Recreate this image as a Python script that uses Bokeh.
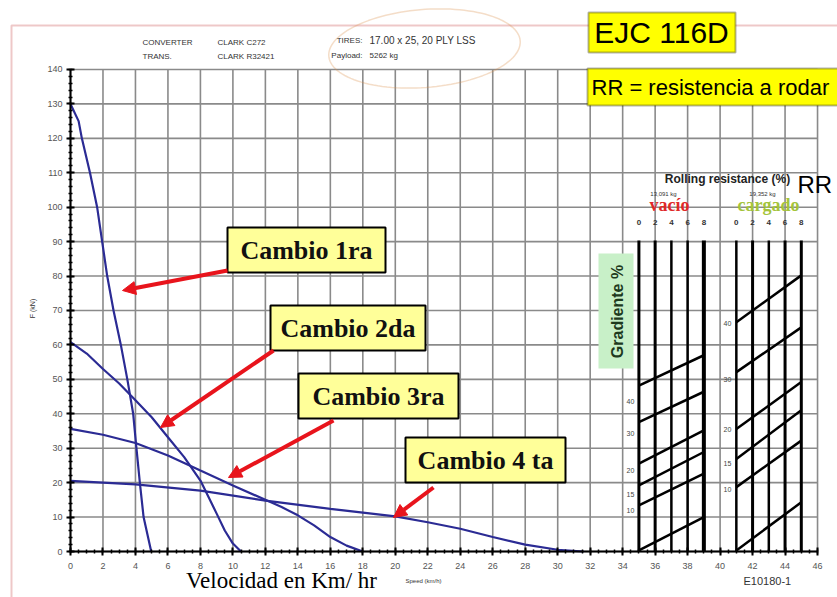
import numpy as np
from bokeh.plotting import figure
from bokeh.models import Range1d, FixedTicker, Label, Arrow, NormalHead, PolyAnnotation
from bokeh.core.properties import value
from bokeh.embed import file_html
from bokeh.resources import INLINE

# ---------------- data ----------------
speed_ticks = list(range(0, 47, 2))
force_ticks = list(range(0, 141, 10))

gear1_speed = [0, 0.5, 0.7, 1.2, 1.64, 1.95, 2.26, 2.65, 3.1, 3.5, 3.86, 4.06, 4.27, 4.5, 4.97]
gear1_force = [130, 125, 120, 110, 100, 90, 80, 70, 60, 50, 40, 30, 20, 10, 0]
gear2_speed = [0, 1, 2, 3, 4, 5, 6, 7, 8, 8.5, 9, 9.5, 10, 10.5]
gear2_force = [60.8, 57.5, 53, 48.8, 43.9, 39, 33.2, 27.4, 20.6, 15.8, 11, 6.1, 2.3, 0]
gear3_speed = [0, 2, 4, 6, 8, 10, 12, 13, 14, 15, 16, 17, 18]
gear3_force = [35.6, 33.9, 31.5, 27.9, 23.5, 19.2, 15, 12.9, 10.5, 7.6, 4.2, 1.7, 0]
gear4_speed = [0, 4, 8, 12, 16, 20, 22, 24, 26, 28, 30, 31.6]
gear4_force = [20.5, 19.5, 17.7, 14.8, 12.4, 10.2, 8.5, 6.6, 4.2, 2.0, 0.5, 0]
gear_labels = ["Cambio 1ra", "Cambio 2da", "Cambio 3ra", "Cambio 4 ta"]

rr_scale_labels = ["0", "2", "4", "6", "8"]
rr_vacio_x = [35, 36, 37, 38, 39]
rr_cargado_x = [41, 42, 43, 44, 45]
rr_top = 90.3
vacio_grade_start = [0.3, 13.4, 19.2, 25.5, 37.6, 48.2]
vacio_grade_end = [10.0, 22.6, 28.9, 35.2, 46.4, 57.0]
cargado_grade_start = [0.3, 18.7, 26.9, 35.6, 52.1, 66.6]
cargado_grade_end = [14.3, 32.2, 41.0, 49.2, 65.1, 80.2]
vacio_grade_labels = ["40", "30", "20", "15", "10"]
vacio_grade_label_y = [43.6, 34.3, 23.5, 16.6, 11.9]
cargado_grade_labels = ["40", "30", "20", "15", "10"]
cargado_grade_label_y = [66.2, 50.0, 35.4, 25.6, 18.0]

# ------------- layout helpers (reference pixel -> data) -------------
def dx(X):
    return (X - 70) / 16.24

def dy(Y):
    return (551 - Y) / 3.443

SANS = value("Liberation Sans")
SERIF = value("Liberation Serif")

W, H = 837, 597
# the frame covers the whole canvas
p = figure(width=W, height=H, output_backend="svg", toolbar_location=None,
           x_range=Range1d(dx(0), dx(W)), y_range=Range1d(dy(H), dy(0)),
           min_border=0)
p.background_fill_color = "white"
p.border_fill_color = "white"
p.outline_line_color = None
p.xgrid.visible = False
p.ygrid.visible = False

p.xaxis.ticker = FixedTicker(ticks=speed_ticks, minor_ticks=[i * 0.5 for i in range(93)])
p.yaxis.ticker = FixedTicker(ticks=force_ticks, minor_ticks=list(range(0, 141, 2)))
p.xaxis.fixed_location = 0
p.yaxis.fixed_location = 0
p.xaxis.bounds = (0, 46)
p.yaxis.bounds = (0, 140)
for ax in (p.xaxis[0], p.yaxis[0]):
    ax.axis_line_color = "black"
    ax.axis_line_width = 2
    ax.major_tick_line_color = "black"
    ax.major_tick_line_width = 2
    ax.major_tick_in = 4
    ax.major_tick_out = 4
    ax.minor_tick_line_color = "black"
    ax.minor_tick_line_width = 1.5
    ax.minor_tick_in = 2
    ax.minor_tick_out = 2
    ax.major_label_text_font = "Liberation Sans"
    ax.major_label_text_font_size = "9px"
    ax.major_label_text_color = "#555555"
p.xaxis.major_label_standoff = 7
p.yaxis.major_label_standoff = 4

# grid lines limited to the chart area
grid_color = "#8a8a8a"
p.segment(x0=speed_ticks, y0=[force_ticks[0]] * len(speed_ticks),
          x1=speed_ticks, y1=[force_ticks[-1]] * len(speed_ticks),
          line_color=grid_color, line_width=1.6)
p.segment(x0=[speed_ticks[0]] * len(force_ticks), y0=force_ticks,
          x1=[speed_ticks[-1]] * len(force_ticks), y1=force_ticks,
          line_color=grid_color, line_width=1.6)

# gear curves
curve_color = "#2b2b94"
for xs, ys in ((gear1_speed, gear1_force), (gear2_speed, gear2_force),
               (gear3_speed, gear3_force), (gear4_speed, gear4_force)):
    p.line(xs, ys, line_color=curve_color, line_width=2.2)

# "Gradiente %" box
p.quad(left=dx(598), right=dx(633), top=dy(253), bottom=dy(368),
       fill_color="#c8f0c8", line_color=None)
p.text(x=[dx(617)], y=[dy(311)], text=["Gradiente %"], angle=np.pi / 2,
       text_font=SANS, text_font_style="bold", text_font_size="16px",
       text_color="#1e3a1e", text_align="center", text_baseline="middle")

# Rolling resistance nomograph
for xs, w in ((rr_vacio_x, [3, 3, 2.5, 2.5, 4]), (rr_cargado_x, [2.5, 3, 2.5, 3, 3])):
    p.segment(x0=xs, y0=[0] * 5, x1=xs, y1=[rr_top] * 5, line_color="black", line_width=w)
p.segment(x0=[rr_vacio_x[0]] * 6, y0=vacio_grade_start, x1=[rr_vacio_x[-1]] * 6, y1=vacio_grade_end,
          line_color="black", line_width=2.5)
p.segment(x0=[rr_cargado_x[0]] * 6, y0=cargado_grade_start, x1=[rr_cargado_x[-1]] * 6, y1=cargado_grade_end,
          line_color="black", line_width=2.5)
p.text(x=[dx(630)] * 5, y=vacio_grade_label_y, text=vacio_grade_labels,
       text_font=SANS, text_font_size="7px", text_color="#444444",
       text_align="center", text_baseline="middle")
p.text(x=[dx(727)] * 5, y=cargado_grade_label_y, text=cargado_grade_labels,
       text_font=SANS, text_font_size="7px", text_color="#444444",
       text_align="center", text_baseline="middle")
p.text(x=rr_vacio_x + rr_cargado_x, y=[dy(222)] * 10, text=rr_scale_labels * 2,
       text_font=SANS, text_font_style="bold", text_font_size="8px", text_color="#333333",
       text_align="center", text_baseline="middle")
p.text(x=[dx(663), dx(762)], y=[dy(193)] * 2, text=["13,091 kg", "19,352 kg"],
       text_font=SANS, text_font_size="6px", text_color="#333333",
       text_align="center", text_baseline="middle")
p.text(x=[dx(669)], y=[dy(204)], text=["vacío"], text_font=SERIF, text_font_style="bold",
       text_font_size="18px", text_color="#e02828", text_align="center", text_baseline="middle")
p.text(x=[dx(768)], y=[dy(204)], text=["cargado"], text_font=SERIF, text_font_style="bold",
       text_font_size="18px", text_color="#a4c43a", text_align="center", text_baseline="middle")
p.text(x=[dx(727)], y=[dy(178)], text=["Rolling resistance (%)"], text_font=SANS,
       text_font_style="bold", text_font_size="12px", text_color="#222222",
       text_align="center", text_baseline="middle")

# Gear callout boxes
boxes = [(227, 385, 227, 272), (270, 425, 305, 350), (298, 458, 373, 418), (405, 565, 437, 482)]
p.quad(left=[dx(b[0]) for b in boxes], right=[dx(b[1]) for b in boxes],
       top=[dy(b[2]) for b in boxes], bottom=[dy(b[3]) for b in boxes],
       fill_color="#ffff99", line_color="black", line_width=2)
p.text(x=[dx((b[0] + b[1]) / 2) for b in boxes], y=[dy((b[2] + b[3]) / 2) for b in boxes],
       text=gear_labels, text_font=SERIF, text_font_style="bold", text_font_size="26px",
       text_color="#111111", text_align="center", text_baseline="middle")

arrows = [((227, 270), (122, 290)), ((273, 350), (160, 427)),
          ((333, 420), (228, 477)), ((433, 487), (393, 517))]
for (tx, ty), (hx, hy) in arrows:
    p.add_layout(Arrow(end=NormalHead(size=13, fill_color="#e8141c", line_color="#e8141c"),
                       x_start=dx(tx), y_start=dy(ty), x_end=dx(hx), y_end=dy(hy),
                       line_color="#e8141c", line_width=4))

# ---- decorations around the chart ----
p.add_layout(PolyAnnotation(xs=[dx(11), dx(900), dx(900), dx(11)], ys=[dy(25), dy(25), dy(640), dy(640)],
                            fill_alpha=0, line_color="#c84848", line_width=2))
t = np.linspace(0, 2 * np.pi, 120)
phi = -0.08
EX = 424 + 96 * np.cos(t) * np.cos(phi) - 39 * np.sin(t) * np.sin(phi)
EY = 48 + 96 * np.cos(t) * np.sin(phi) + 39 * np.sin(t) * np.cos(phi)
p.add_layout(PolyAnnotation(xs=list(dx(EX)), ys=list(dy(EY)), fill_alpha=0,
                            line_color="#d9904a", line_width=1.5))
p.add_layout(PolyAnnotation(xs=[dx(588), dx(735), dx(735), dx(588)], ys=[dy(12), dy(12), dy(52), dy(52)],
                            fill_color="#ffff00", fill_alpha=1, line_color="black", line_width=2))
p.add_layout(PolyAnnotation(xs=[dx(587), dx(900), dx(900), dx(587)], ys=[dy(68), dy(68), dy(105), dy(105)],
                            fill_color="#ffff00", fill_alpha=1, line_color="black", line_width=2))

def label(X, Y, text, size, font="Liberation Sans", style="normal", color="#333333",
          align="left", baseline="middle", angle=0):
    p.add_layout(Label(x=dx(X), y=dy(Y), text=text, text_font=font, text_font_size=size,
                       text_font_style=style, text_color=color, text_align=align,
                       text_baseline=baseline, angle=angle))

label(661, 32, "EJC 116D", "30px", color="black", align="center")
label(591, 87, "RR = resistencia a rodar", "22px", color="black")
label(797, 184, "RR", "24px", color="black")
label(142, 42, "CONVERTER", "8px")
label(217, 42, "CLARK C272", "8px")
label(142, 56, "TRANS.", "8px")
label(217, 56, "CLARK R32421", "8px")
label(362, 40, "TIRES:", "8px", align="right")
label(369, 40, "17.00 x 25, 20 PLY LSS", "10px")
label(362, 55, "Payload:", "8px", align="right")
label(369, 55, "5262 kg", "8px")
label(32, 308, "F (kN)", "7px", align="center", angle=np.pi / 2)
label(281, 580, "Velocidad en Km/ hr", "23px", font="Liberation Serif", color="black",
      align="center", baseline="middle")
label(405, 580, "Speed (km/h)", "6px")
label(743, 580, "E10180-1", "11px", color="#333333")

open("out.html", "w").write(file_html(p, INLINE))
